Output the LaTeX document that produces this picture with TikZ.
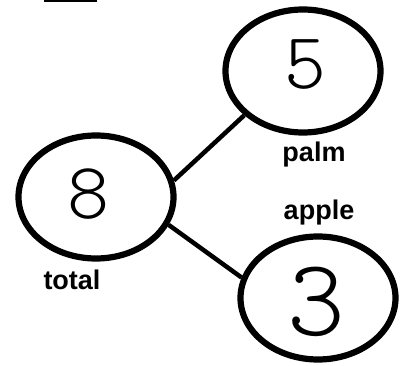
\documentclass[tikz,border=0pt]{standalone}
\usepackage{fontspec}
\usepackage{tikz}
\usetikzlibrary{shapes.geometric}
\newfontfamily\labelfont{Liberation Sans}
\newfontfamily\handfont[Extension=.otf]{lmmonolt10-regular}

\begin{document}
\begin{tikzpicture}[x=1pt,y=-1pt,thick]

	\tikzstyle{bubble} = [draw,ellipse,line width=6.2pt,minimum width=155pt,minimum height=123pt,inner sep=0pt]
	\tikzstyle{digit} = [font=\handfont\fontsize{80}{80}\selectfont,inner sep=0pt]
	\tikzstyle{tag} = [font=\labelfont\bfseries\fontsize{27}{27}\selectfont,inner sep=0pt]

	\useasboundingbox (0,0) rectangle (404,366);
	\fill (44,0) rectangle (97,2.5);

	\node[bubble] (total) at (96,197) {};
	\node[digit] (eight) at (88,194) {8};
	\node[tag] (totaltag) at (72,280) {total};

	\node[bubble] (palm) at (303,71) {};
	\node[digit] (five) at (305,65) {5};
	\node[tag] (palmtag) at (314,155) {palm};

	\node[bubble] (apple) at (318,298) {};
	\node[digit,font=\handfont\fontsize{110}{110}\selectfont] (three) at (316,302) {3};
	\node[tag] (appletag) at (319,213) {apple};

	%\draw (total) -- (palm);
	\draw[line width=4.5pt] (total.12) -- (palm.217);
	\draw[line width=4.5pt] (total.-21) -- (apple.165);
\end{tikzpicture}
\end{document}
